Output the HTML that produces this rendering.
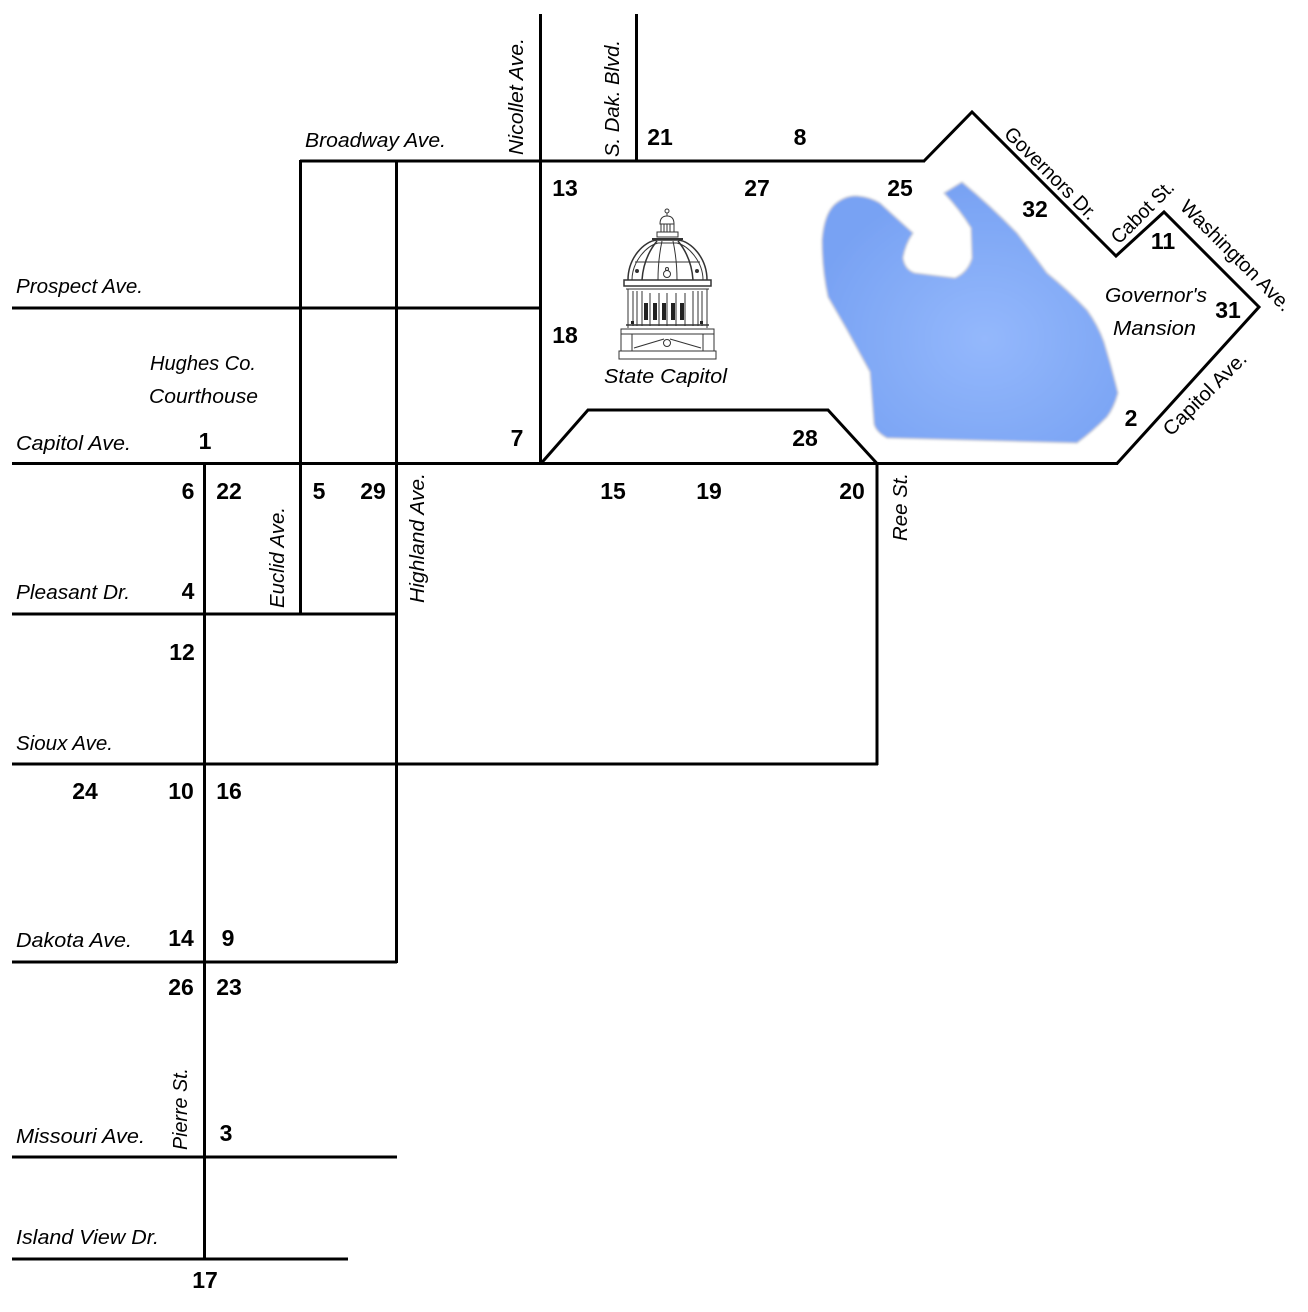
<!DOCTYPE html>
<html><head><meta charset="utf-8"><style>
html,body{margin:0;padding:0;background:#fff;}
svg{display:block;}
.n{font-family:"Liberation Sans",sans-serif;font-weight:bold;font-size:23px;fill:#000;text-anchor:middle;}
.s{font-family:"Liberation Sans",sans-serif;font-style:italic;font-size:20px;fill:#000;}
.d{font-family:"Liberation Sans",sans-serif;font-size:20px;fill:#000;}
.c{stroke:#333;stroke-width:1;fill:none;}
</style></head><body>
<svg width="1308" height="1312" viewBox="0 0 1308 1312" xmlns="http://www.w3.org/2000/svg">
<defs>
<radialGradient id="lg" cx="0.55" cy="0.6" r="0.6">
<stop offset="0" stop-color="#94b8fc"/>
<stop offset="1" stop-color="#78a2f3"/>
</radialGradient>
<filter id="bl" x="-5%" y="-5%" width="110%" height="110%"><feGaussianBlur stdDeviation="1"/></filter>
</defs>

<!-- lake -->
<path filter="url(#bl)" fill="url(#lg)" stroke="#cfd2da" stroke-width="1.5" stroke-linejoin="round" d="M822,240 Q824,215 834,205 Q845,195 858,196 Q870,197 880,203 L913,233 Q905,245 903,258 Q905,270 915,273 L955,278 Q968,272 972,258 L971,228 Q960,210 944,193 L962,182 Q990,205 1017,233 Q1030,250 1047,273 Q1068,290 1087,310 Q1098,325 1104,342 Q1112,368 1118,393 Q1114,408 1107,417 Q1092,432 1077,443 L887,438 Q876,432 874,424 L870,372 Q858,350 847,330 L828,297 Q822,270 822,240 Z"/>

<!-- streets -->
<g stroke="#000" stroke-width="3" fill="none" stroke-linecap="butt">
<line x1="300" y1="161" x2="925" y2="161"/>
<line x1="12" y1="308" x2="541" y2="308"/>
<line x1="12" y1="463.5" x2="1118" y2="463.5"/>
<line x1="12" y1="614" x2="397" y2="614"/>
<line x1="12" y1="764" x2="878" y2="764"/>
<line x1="12" y1="962" x2="397" y2="962"/>
<line x1="12" y1="1157" x2="397" y2="1157"/>
<line x1="12" y1="1259" x2="348" y2="1259"/>
<line x1="540.5" y1="14" x2="540.5" y2="464"/>
<line x1="636.5" y1="14" x2="636.5" y2="161"/>
<line x1="300.5" y1="160" x2="300.5" y2="614"/>
<line x1="396.5" y1="160" x2="396.5" y2="963"/>
<line x1="204.5" y1="463" x2="204.5" y2="1259"/>
<line x1="877" y1="463" x2="877" y2="765"/>
<polyline stroke-linejoin="miter" points="924,161 972,112 1116,256 1164,212 1259,307 1117,463.5"/>
<polyline stroke-linejoin="miter" points="541,463.5 588,410 828,410 877,463.5"/>
</g>

<!-- capitol building -->
<g class="c">
<circle cx="667" cy="211" r="2"/>
<line x1="667" y1="213" x2="667" y2="216"/>
<path d="M660,224 Q660,216 667,216 Q674,216 674,224 Z"/>
<rect x="661" y="224" width="13" height="8"/>
<line x1="664" y1="224" x2="664" y2="232"/><line x1="667" y1="224" x2="667" y2="232"/><line x1="670" y1="224" x2="670" y2="232"/>
<rect x="657" y="232" width="21" height="5"/>
<line x1="652" y1="239" x2="683" y2="239" stroke-width="2"/>
<path d="M628,280 C628,258 644,241 657,240 L678,240 C691,241 707,258 707,280" stroke-width="1.5"/>
<path d="M632,280 C632,262 646,246 658,243 L677,243 C689,246 703,262 703,280"/>
<path d="M657,241 C648,252 643,265 642,280" stroke-width="1.5"/>
<path d="M678,241 C687,252 692,265 693,280" stroke-width="1.5"/>
<path d="M662,241 C659,255 658,268 658,280"/>
<path d="M673,241 C676,255 677,268 677,280"/>
<line x1="635" y1="262" x2="700" y2="262"/>
<circle cx="667" cy="274" r="3.5"/><circle cx="667" cy="269" r="1.5"/>
<circle cx="637" cy="271" r="1.5" fill="#333"/><circle cx="697" cy="271" r="1.5" fill="#333"/>
<rect x="624" y="280" width="87" height="6" stroke-width="1.5"/>
<line x1="626" y1="289" x2="709" y2="289"/>
<line x1="628" y1="289" x2="628" y2="328"/><line x1="707" y1="289" x2="707" y2="328"/>
<line x1="633" y1="291" x2="633" y2="326"/><line x1="637" y1="291" x2="637" y2="326"/>
<line x1="698" y1="291" x2="698" y2="326"/><line x1="702" y1="291" x2="702" y2="326"/>
<line x1="642" y1="291" x2="642" y2="326"/><line x1="693" y1="291" x2="693" y2="326"/>
<line x1="650" y1="293" x2="650" y2="326"/><line x1="659" y1="293" x2="659" y2="326"/><line x1="667" y1="293" x2="667" y2="326"/><line x1="676" y1="293" x2="676" y2="326"/><line x1="685" y1="293" x2="685" y2="326"/>
<line x1="626" y1="325" x2="709" y2="325" stroke-width="1.5"/>
</g>
<g fill="#222">
<rect x="644" y="303" width="4" height="17"/>
<rect x="653" y="303" width="4" height="17"/>
<rect x="662" y="303" width="4" height="17"/>
<rect x="671" y="303" width="4" height="17"/>
<rect x="680" y="303" width="4" height="17"/>
<rect x="631" y="321" width="3" height="3"/><rect x="700" y="321" width="3" height="3"/>
</g>
<g class="c">
<rect x="621" y="329" width="93" height="22"/>
<line x1="621" y1="334" x2="714" y2="334"/>
<line x1="632" y1="334" x2="632" y2="351"/><line x1="703" y1="334" x2="703" y2="351"/>
<path d="M634,348 L664,339 M670,339 L701,348"/>
<circle cx="667" cy="343" r="3.5"/>
<rect x="619" y="351" width="97" height="8"/>
</g>

<!-- horizontal italic street labels -->
<text class="s" x="305" y="147" textLength="141" lengthAdjust="spacingAndGlyphs">Broadway Ave.</text>
<text class="s" x="16" y="293" textLength="127" lengthAdjust="spacingAndGlyphs">Prospect Ave.</text>
<text class="s" x="150" y="370" textLength="106" lengthAdjust="spacingAndGlyphs">Hughes Co.</text>
<text class="s" x="149" y="403" textLength="109" lengthAdjust="spacingAndGlyphs">Courthouse</text>
<text class="s" x="16" y="450" textLength="115" lengthAdjust="spacingAndGlyphs">Capitol Ave.</text>
<text class="s" x="16" y="599" textLength="114" lengthAdjust="spacingAndGlyphs">Pleasant Dr.</text>
<text class="s" x="16" y="750" textLength="97" lengthAdjust="spacingAndGlyphs">Sioux Ave.</text>
<text class="s" x="16" y="947" textLength="116" lengthAdjust="spacingAndGlyphs">Dakota Ave.</text>
<text class="s" x="16" y="1143" textLength="129" lengthAdjust="spacingAndGlyphs">Missouri Ave.</text>
<text class="s" x="16" y="1244" textLength="143" lengthAdjust="spacingAndGlyphs">Island View Dr.</text>
<text class="s" x="604" y="383" textLength="123" lengthAdjust="spacingAndGlyphs">State Capitol</text>
<text class="s" x="1105" y="302" textLength="102" lengthAdjust="spacingAndGlyphs">Governor's</text>
<text class="s" x="1113" y="335" textLength="83" lengthAdjust="spacingAndGlyphs">Mansion</text>

<!-- vertical italic labels -->
<text class="s" transform="translate(523,155) rotate(-90)" textLength="117" lengthAdjust="spacingAndGlyphs">Nicollet Ave.</text>
<text class="s" transform="translate(619,157) rotate(-90)" textLength="117" lengthAdjust="spacingAndGlyphs">S. Dak. Blvd.</text>
<text class="s" transform="translate(284,608) rotate(-90)" textLength="101" lengthAdjust="spacingAndGlyphs">Euclid Ave.</text>
<text class="s" transform="translate(424,603) rotate(-90)" textLength="130" lengthAdjust="spacingAndGlyphs">Highland Ave.</text>
<text class="s" transform="translate(907,541) rotate(-90)" textLength="68" lengthAdjust="spacingAndGlyphs">Ree St.</text>
<text class="s" transform="translate(187,1150) rotate(-90)" textLength="82" lengthAdjust="spacingAndGlyphs">Pierre St.</text>

<!-- diagonal labels -->
<text class="d" transform="translate(1003,135) rotate(45)" textLength="122" lengthAdjust="spacingAndGlyphs">Governors Dr.</text>
<text class="d" transform="translate(1119,245) rotate(-45)" textLength="80" lengthAdjust="spacingAndGlyphs">Cabot St.</text>
<text class="d" transform="translate(1179,208) rotate(45)" textLength="148" lengthAdjust="spacingAndGlyphs">Washington Ave.</text>
<text class="d" transform="translate(1171,437) rotate(-45)" textLength="109" lengthAdjust="spacingAndGlyphs">Capitol Ave.</text>

<!-- numbers -->
<g class="n">
<text x="660" y="145">21</text>
<text x="800" y="145">8</text>
<text x="565" y="196">13</text>
<text x="757" y="196">27</text>
<text x="900" y="196">25</text>
<text x="1035" y="217">32</text>
<text x="1163" y="249">11</text>
<text x="1228" y="318">31</text>
<text x="1131" y="426">2</text>
<text x="565" y="343">18</text>
<text x="517" y="446">7</text>
<text x="805" y="446">28</text>
<text x="205" y="449">1</text>
<text x="188" y="499">6</text>
<text x="229" y="499">22</text>
<text x="319" y="499">5</text>
<text x="373" y="499">29</text>
<text x="613" y="499">15</text>
<text x="709" y="499">19</text>
<text x="852" y="499">20</text>
<text x="188" y="599">4</text>
<text x="182" y="660">12</text>
<text x="85" y="799">24</text>
<text x="181" y="799">10</text>
<text x="229" y="799">16</text>
<text x="181" y="946">14</text>
<text x="228" y="946">9</text>
<text x="181" y="995">26</text>
<text x="229" y="995">23</text>
<text x="226" y="1141">3</text>
<text x="205" y="1288">17</text>
</g>
</svg>
</body></html>
